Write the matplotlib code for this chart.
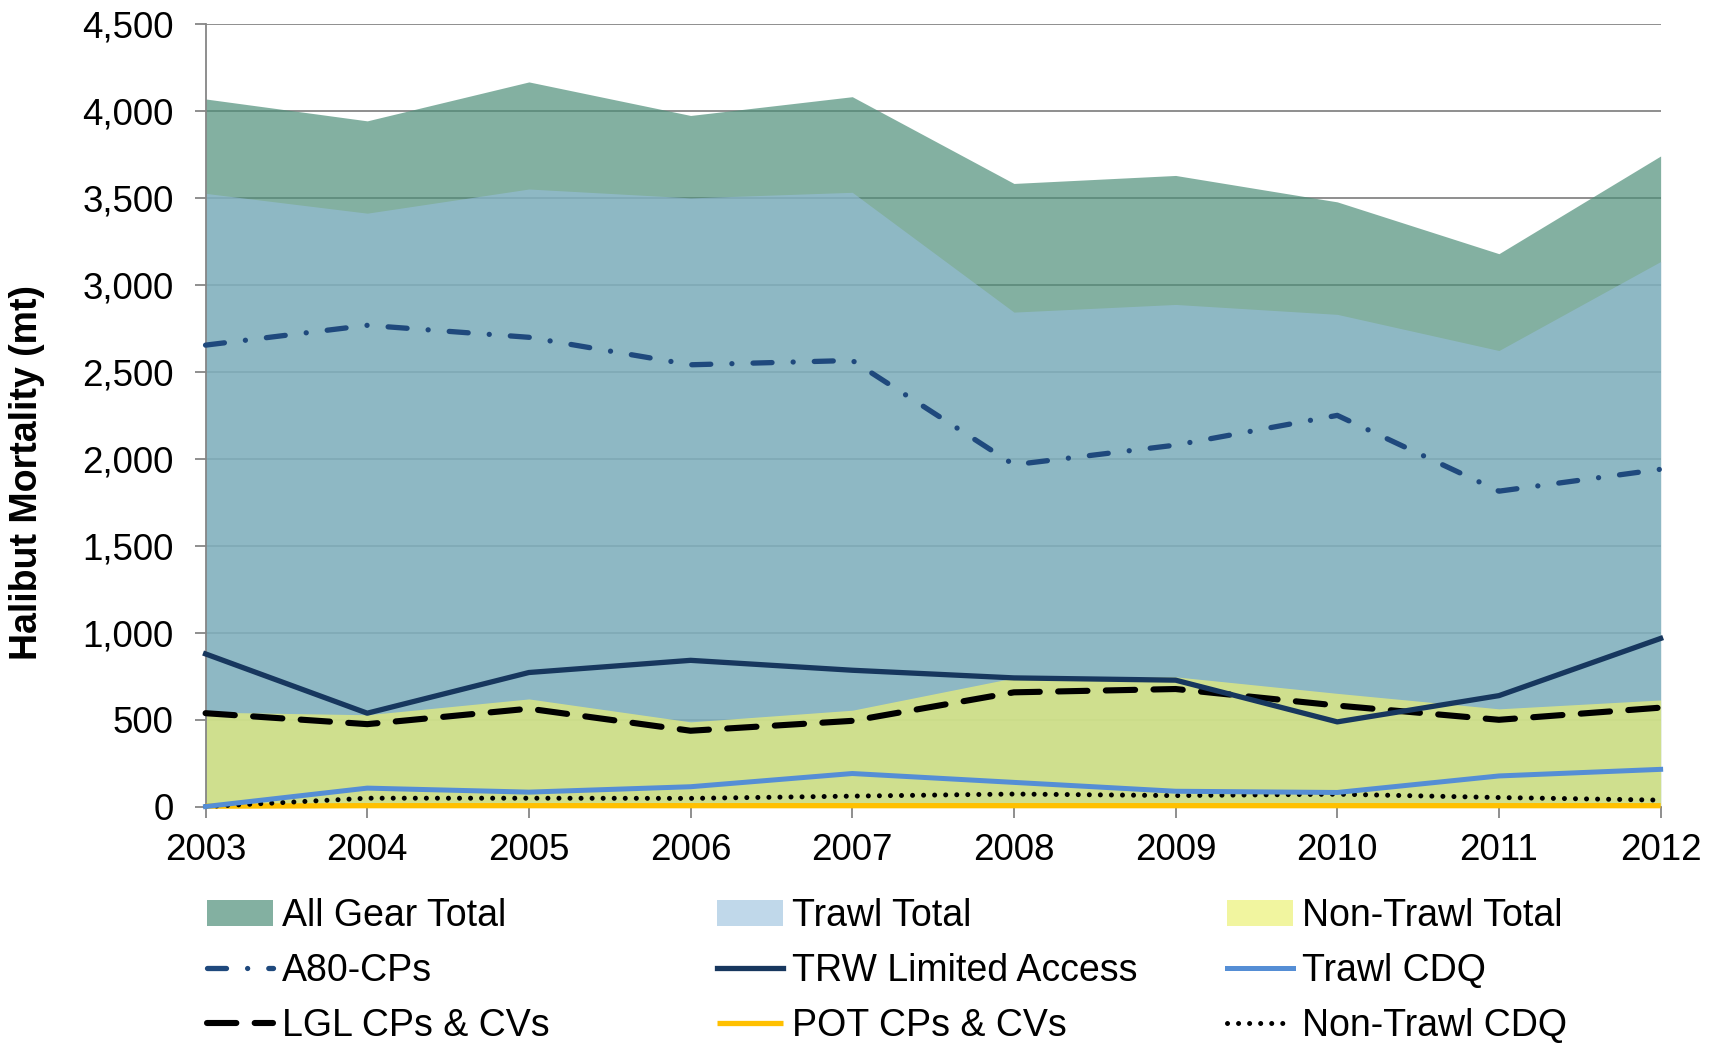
import numpy as np
import matplotlib.pyplot as plt
from matplotlib.patches import Patch
from matplotlib.lines import Line2D
from matplotlib.ticker import FuncFormatter

plt.rcParams['font.family'] = ['Liberation Sans', 'DejaVu Sans']

# Годы и значения (mt)
years = [2003, 2004, 2005, 2006, 2007, 2008, 2009, 2010, 2011, 2012]

all_gear_total = [4070, 3944, 4168, 3975, 4083, 3584, 3630, 3478, 3180, 3742]
trawl_total = [3527, 3413, 3552, 3501, 3533, 2844, 2888, 2831, 2623, 3135]
non_trawl_total = [543, 528, 619, 487, 554, 740, 746, 651, 562, 613]

a80_cps = [2654, 2768, 2699, 2541, 2566, 1966, 2079, 2250, 1814, 1940]
trw_limited = [878, 537, 771, 841, 784, 740, 727, 487, 638, 967]
trawl_cdq = [0, 106, 83, 114, 190, 139, 88, 81, 176, 214]
lgl_cps_cvs = [537, 474, 563, 436, 493, 657, 676, 581, 499, 569]
pot_cps_cvs = [2, 5, 5, 5, 5, 5, 5, 5, 5, 5]
non_trawl_cdq = [0, 48, 48, 47, 60, 72, 63, 71, 52, 37]

fig = plt.figure(figsize=(17.23, 10.43), dpi=100)
ax = fig.add_axes([0.1193, 0.2267, 0.8445, 0.7501])

# Области (перекрываются, не накопленные)
c_all = '#4f8f7a'
c_trawl = '#96bedc'
c_non = '#ecf177'
ax.fill_between(years, all_gear_total, color=c_all, alpha=0.7, lw=0, zorder=1)
ax.fill_between(years, trawl_total, color=c_trawl, alpha=0.6, lw=0, zorder=1.1)
ax.fill_between(years, non_trawl_total, color=c_non, alpha=0.7, lw=0, zorder=1.2)

# Стили линий
st_a80 = dict(color='#1f497d', lw=3.8, dashes=(3.6, 4.0, 0.01, 4.0), dash_capstyle='round')
st_trw = dict(color='#17375e', lw=3.8)
st_tcdq = dict(color='#558ed5', lw=3.6)
st_lgl = dict(color='black', lw=4.4, dashes=(4.8, 3.0), dash_capstyle='round')
st_pot = dict(color='#ffc000', lw=3.8, solid_capstyle='butt')
st_ntcdq = dict(color='black', lw=3.6, dashes=(0.01, 2.2), dash_capstyle='round')

kw = dict(clip_on=False, zorder=3)
ax.plot(years, pot_cps_cvs, **st_pot, **kw)
ax.plot(years, non_trawl_cdq, **st_ntcdq, **kw)
ax.plot(years, trawl_cdq, **st_tcdq, **kw)
ax.plot(years, lgl_cps_cvs, **st_lgl, **kw)
ax.plot(years, trw_limited, **st_trw, **kw)
ax.plot(years, a80_cps, **st_a80, **kw)

ax.set_xlim(2003, 2012)
ax.set_ylim(0, 4500)
ax.set_xticks(years)
ax.set_yticks(np.arange(0, 4501, 500))
ax.yaxis.set_major_formatter(FuncFormatter(lambda v, p: f'{int(v):,}'))

ax.set_axisbelow(True)
ax.yaxis.grid(True, color='#868686', lw=1.3)
for s in ['top', 'right']:
    ax.spines[s].set_visible(False)
for s in ['left', 'bottom']:
    ax.spines[s].set_color('#868686')
    ax.spines[s].set_linewidth(1.3)
ax.tick_params(axis='both', labelsize=26.5, color='#868686', length=8, width=1.3)
ax.tick_params(axis='x', pad=11)
ax.tick_params(axis='y', pad=15)

fig.text(27 / 1723, 1 - 472 / 1043, 'Halibut Mortality (mt)', rotation=90,
         ha='center', va='center', fontsize=27, fontweight='bold')

# Легенда: три колонки
cols = [
    [(Patch(facecolor=c_all, alpha=0.7), 'All Gear Total'),
     (Line2D([], [], **st_a80), 'A80-CPs'),
     (Line2D([], [], **st_lgl), 'LGL CPs & CVs')],
    [(Patch(facecolor=c_trawl, alpha=0.6), 'Trawl Total'),
     (Line2D([], [], **st_trw), 'TRW Limited Access'),
     (Line2D([], [], **st_pot), 'POT CPs & CVs')],
    [(Patch(facecolor=c_non, alpha=0.7), 'Non-Trawl Total'),
     (Line2D([], [], **st_tcdq), 'Trawl CDQ'),
     (Line2D([], [], **st_ntcdq), 'Non-Trawl CDQ')],
]
col_x = [207, 717, 1227]
for x0, entries in zip(col_x, cols):
    h, l = zip(*entries)
    fig.legend(h, l, loc='center left', bbox_to_anchor=(x0 / 1723, 1 - 971 / 1043),
               frameon=False, fontsize=27, handlelength=1.76, handletextpad=0.24,
               borderpad=0, borderaxespad=0, labelspacing=0.5)

fig.savefig('out.png', dpi=100)
